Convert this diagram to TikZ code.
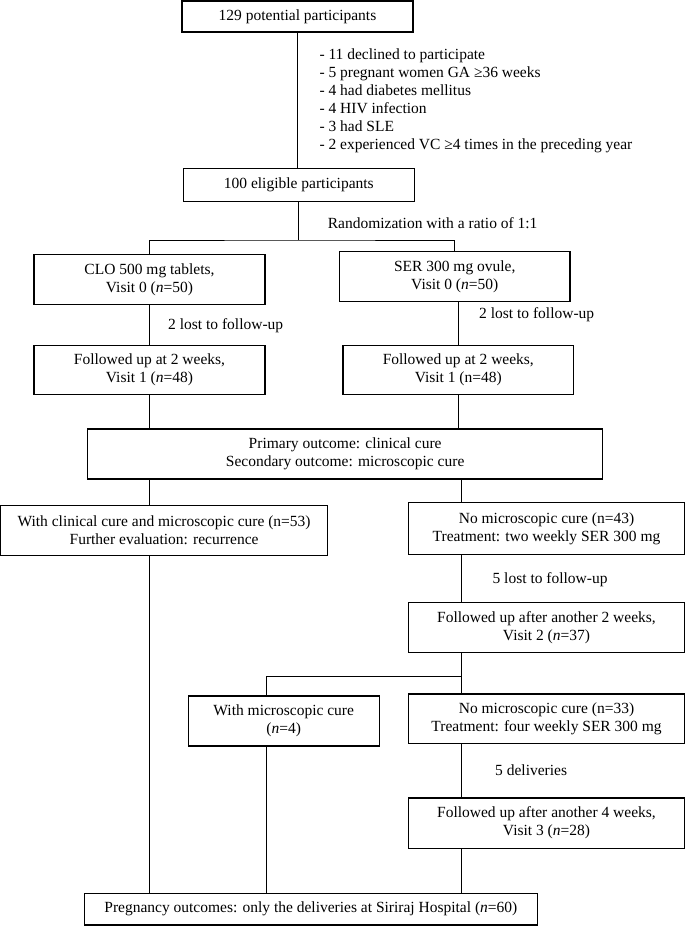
\documentclass[tikz,border=0pt]{standalone}
\usepackage{fontspec}
\setmainfont{Liberation Serif}
\begin{document}
\begin{tikzpicture}[x=1pt,y=-1pt,
  every node/.style={font=\fontsize{15.5}{18}\selectfont},
  box/.style={draw, line width=1.1pt, inner sep=0pt, outer sep=0pt, align=center},
  lbl/.style={anchor=west, inner sep=0pt, align=left},
  conn/.style={line width=0.9pt}]
\useasboundingbox (0,0) rectangle (685,926);
% boxes
\node[box, minimum width=231pt, minimum height=31pt] (b1) at (297.5,16.5) {129 potential participants};
\node[box, minimum width=231pt, minimum height=33.4pt] (b2) at (298.8,185) {100 eligible participants};
\node[box, minimum width=231pt, minimum height=50pt] (clo) at (149.5,279.3) {CLO 500 mg tablets,\\Visit 0 (\textit{n}=50)};
\node[box, minimum width=230.5pt, minimum height=50pt] (ser) at (454.75,276.7) {SER 300 mg ovule,\\Visit 0 (\textit{n}=50)};
\node[box, minimum width=231pt, minimum height=49.3pt] (fl) at (149.5,369.7) {Followed up at 2 weeks,\\Visit 1 (\textit{n}=48)};
\node[box, minimum width=230.6pt, minimum height=49.3pt] (fr) at (458.3,369.7) {Followed up at 2 weeks,\\Visit 1 (n=48)};
\node[box, minimum width=515.5pt, minimum height=50pt] (prim) at (345.15,454) {Primary outcome: clinical cure\\Secondary outcome: microscopic cure};
\node[box, minimum width=327.2pt, minimum height=50pt] (wc) at (164.1,530.7) {With clinical cure and microscopic cure (n=53)\\Further evaluation: recurrence};
\node[box, minimum width=276pt, minimum height=52pt] (nm) at (546.5,528.3) {No microscopic cure (n=43)\\Treatment: two weekly SER 300 mg};
\node[box, minimum width=276pt, minimum height=49.6pt] (v2) at (546.5,627.5) {Followed up after another 2 weeks,\\Visit 2 (\textit{n}=37)};
\node[box, minimum width=190.9pt, minimum height=50pt] (wm) at (283.75,721) {With microscopic cure\\(\textit{n}=4)};
\node[box, minimum width=276pt, minimum height=49.7pt] (nm33) at (546.5,718.85) {No microscopic cure (n=33)\\Treatment: four weekly SER 300 mg};
\node[box, minimum width=276pt, minimum height=50.3pt] (v3) at (546.5,823.15) {Followed up after another 4 weeks,\\Visit 3 (\textit{n}=28)};
\node[box, minimum width=453.1pt, minimum height=31.7pt] (preg) at (310.85,909.15) {Pregnancy outcomes: only the deliveries at Siriraj Hospital (\textit{n}=60)};
% labels
\node[lbl] (excl) at (319.3,101) {- 11 declined to participate\\- 5 pregnant women GA ≥36 weeks\\- 4 had diabetes mellitus\\- 4 HIV infection\\- 3 had SLE\\- 2 experienced VC ≥4 times in the preceding year};
\node[lbl] (rand) at (327.6,222.7) {Randomization with a ratio of 1:1};
\node[lbl] (lostL) at (168,326) {2 lost to follow-up};
\node[lbl] (lostR) at (479,315) {2 lost to follow-up};
\node[lbl] (lost5) at (492.4,579.3) {5 lost to follow-up};
\node[lbl] (deliv) at (495,770) {5 deliveries};
% column coordinates
\coordinate (split) at (298,240);
\coordinate (cl) at (149.5,0);
\coordinate (cr) at (461,0);
\coordinate (cm) at (266,0);
\coordinate (br) at (461,676.7);
% connectors
\draw[conn] (b1.south) -- (b1.south |- b2.north);
\draw[conn] (b2.south -| split) -- (split);
\draw[conn] (clo.north) |- (split) -| (ser.north);
\draw[conn] (clo.south) -- (fl.north);
\draw[conn] (fr.north |- ser.south) -- (fr.north);
\draw[conn] (fl.south) -- (fl.south |- prim.north);
\draw[conn] (fr.south) -- (fr.south |- prim.north);
\draw[conn] (cl |- prim.south) -- (cl |- wc.north);
\draw[conn] (cr |- prim.south) -- (cr |- nm.north);
\draw[conn] (cr |- nm.south) -- (cr |- v2.north);
\draw[conn] (cr |- v2.south) -- (cr |- nm33.north);
\draw[conn] (br) -- (cm |- br) -- (cm |- wm.north);
\draw[conn] (cr |- nm33.south) -- (cr |- v3.north);
\draw[conn] (cr |- v3.south) -- (cr |- preg.north);
\draw[conn] (cm |- wm.south) -- (cm |- preg.north);
\draw[conn] (cl |- wc.south) -- (cl |- preg.north);
\end{tikzpicture}
\end{document}
